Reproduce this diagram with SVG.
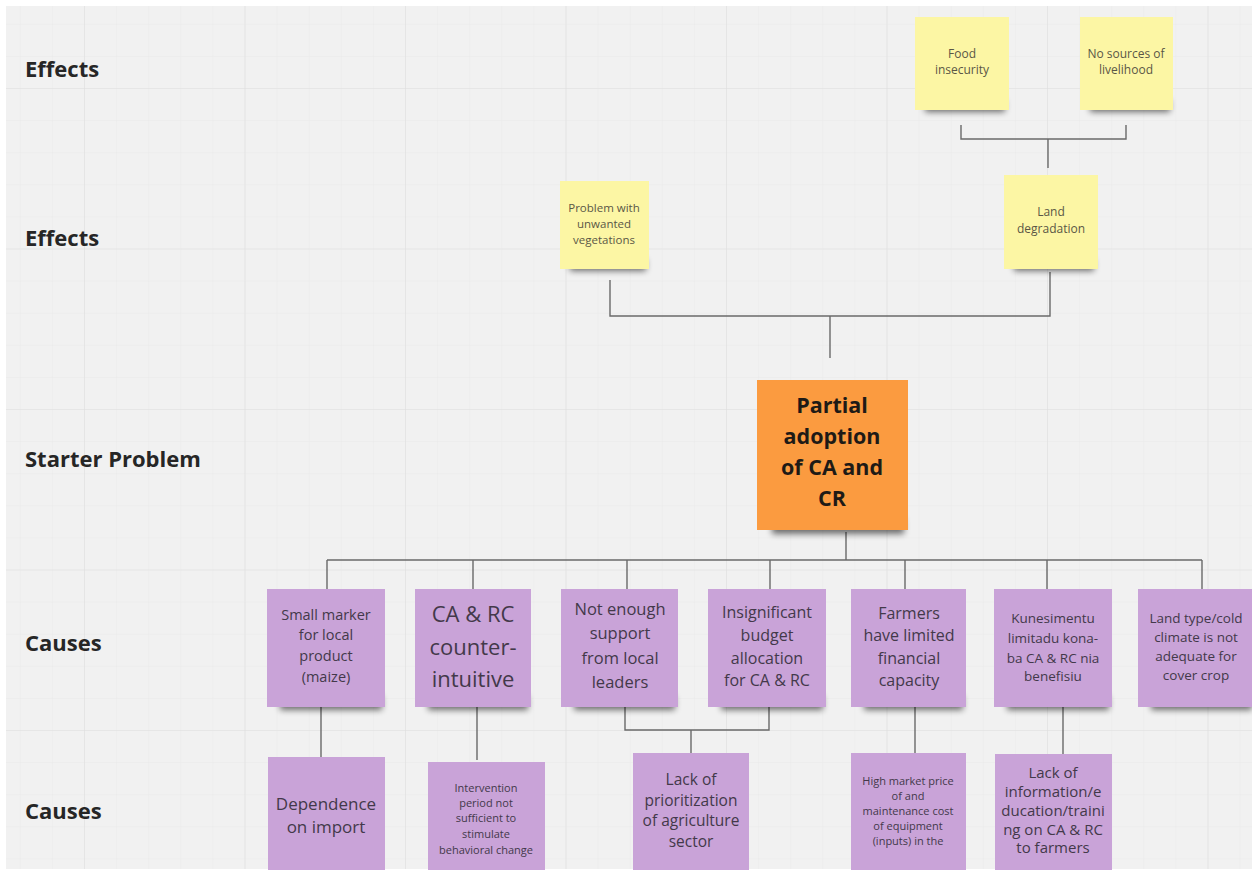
<svg xmlns="http://www.w3.org/2000/svg" width="1252" height="870" viewBox="0 0 1252 870">
  <style>
    .lbl { font-family: "Open Sans", "Liberation Sans", sans-serif; font-weight: 700; font-size: 22px; fill: #262626; }
    .t { font-family: "Open Sans", "Liberation Sans", sans-serif; text-anchor: middle; }
    .ty { fill: #5a5646; }
    .tp { fill: #43394a; }
    .to { fill: #1e1a16; font-weight: 700; }
    .yellow { fill: #fcf6a4; }
    .purple { fill: #c9a3d8; }
    .orange { fill: #fb9b40; }
    .shadow { fill: #000; opacity: 0.55; filter: url(#soft); }
    .conn path { fill: none; stroke: #6a6a6a; stroke-width: 1.4; }
  </style>
  <defs>
    <filter id="soft" x="-20%" y="-100%" width="140%" height="300%">
      <feGaussianBlur stdDeviation="3"/>
    </filter>
    <pattern id="minor" patternUnits="userSpaceOnUse" x="84" y="88" width="32.1" height="32.1">
      <path d="M0 0H32.1M0 0V32.1" fill="none" stroke="#e9e9e9" stroke-width="1"/>
    </pattern>
    <pattern id="major" patternUnits="userSpaceOnUse" x="84" y="88" width="160.5" height="160.5">
      <path d="M0 0H160.5M0 0V160.5" fill="none" stroke="#dfdfdf" stroke-width="1.2"/>
    </pattern>
  </defs>

  <!-- board -->
  <rect width="1252" height="870" fill="#ffffff"/>
  <rect x="6" y="6" width="1246" height="863" fill="#f1f1f1"/>
  <rect x="6" y="6" width="1246" height="863" fill="url(#minor)"/>
  <rect x="6" y="6" width="1246" height="863" fill="url(#major)"/>

  <!-- row labels -->
  <g id="row-labels">
    <text class="lbl" x="25" y="77">Effects</text>
    <text class="lbl" x="25" y="246">Effects</text>
    <text class="lbl" x="25" y="467">Starter Problem</text>
    <text class="lbl" x="25" y="651">Causes</text>
    <text class="lbl" x="25" y="819">Causes</text>
  </g>

  <!-- connectors -->
  <g id="connectors" class="conn">
    <path d="M961 125V139H1126V125M1048 139V168"/>
    <path d="M610 280V316H1050V272M830 316V358"/>
    <path d="M846 532V560M327 560H1202M327 560V589M473 560V589M627 560V589M770 560V589M905 560V589M1047 560V589M1202 560V589"/>
    <path d="M321 707V757M477 707V760M625 707V730H769V707M691 730V753M915 707V753M1063 707V754"/>
  </g>

  <!-- effects (top) -->
  <g id="food-insecurity">
    <rect class="shadow" x="925" y="100" width="80" height="12"/>
    <rect class="yellow" x="915" y="17" width="94" height="93"/>
    <text class="t ty" font-size="12"><tspan x="962" y="58">Food</tspan><tspan x="962" y="74">insecurity</tspan></text>
  </g>
  <g id="no-livelihood">
    <rect class="shadow" x="1090" y="100" width="80" height="12"/>
    <rect class="yellow" x="1080" y="17" width="93" height="93"/>
    <text class="t ty" font-size="12"><tspan x="1126" y="58">No sources of</tspan><tspan x="1126" y="74">livelihood</tspan></text>
  </g>

  <!-- effects (second) -->
  <g id="unwanted-vegetation">
    <rect class="shadow" x="570" y="259" width="76" height="12"/>
    <rect class="yellow" x="560" y="181" width="89" height="88"/>
    <text class="t ty" font-size="11.5"><tspan x="604" y="212">Problem with</tspan><tspan x="604" y="228">unwanted</tspan><tspan x="604" y="244">vegetations</tspan></text>
  </g>
  <g id="land-degradation">
    <rect class="shadow" x="1014" y="259" width="80" height="12"/>
    <rect class="yellow" x="1004" y="175" width="94" height="94"/>
    <text class="t ty" font-size="12"><tspan x="1051" y="216">Land</tspan><tspan x="1051" y="233">degradation</tspan></text>
  </g>

  <!-- starter problem -->
  <g id="starter-problem">
    <rect class="shadow" x="772" y="518" width="132" height="16"/>
    <rect class="orange" x="757" y="380" width="151" height="150"/>
    <text class="t to" font-size="21.5"><tspan x="832" y="413">Partial</tspan><tspan x="832" y="444">adoption</tspan><tspan x="832" y="475">of CA and</tspan><tspan x="832" y="506">CR</tspan></text>
  </g>

  <!-- causes (first level) -->
  <g id="small-market">
    <rect class="shadow" x="280" y="696" width="102" height="14"/>
    <rect class="purple" x="267" y="589" width="118" height="118"/>
    <text class="t tp" font-size="14.5"><tspan x="326" y="620">Small marker</tspan><tspan x="326" y="640">for local</tspan><tspan x="326" y="661">product</tspan><tspan x="326" y="682">(maize)</tspan></text>
  </g>
  <g id="counter-intuitive">
    <rect class="shadow" x="428" y="696" width="100" height="14"/>
    <rect class="purple" x="415" y="589" width="116" height="118"/>
    <text class="t tp" font-size="22"><tspan x="473" y="622">CA &amp; RC</tspan><tspan x="473" y="655">counter-</tspan><tspan x="473" y="687">intuitive</tspan></text>
  </g>
  <g id="local-leaders">
    <rect class="shadow" x="574" y="696" width="101" height="14"/>
    <rect class="purple" x="561" y="589" width="117" height="118"/>
    <text class="t tp" font-size="16.5"><tspan x="620" y="615">Not enough</tspan><tspan x="620" y="639">support</tspan><tspan x="620" y="664">from local</tspan><tspan x="620" y="688">leaders</tspan></text>
  </g>
  <g id="budget-allocation">
    <rect class="shadow" x="721" y="696" width="102" height="14"/>
    <rect class="purple" x="708" y="589" width="118" height="118"/>
    <text class="t tp" font-size="16"><tspan x="767" y="618">Insignificant</tspan><tspan x="767" y="641">budget</tspan><tspan x="767" y="664">allocation</tspan><tspan x="767" y="686">for CA &amp; RC</tspan></text>
  </g>
  <g id="financial-capacity">
    <rect class="shadow" x="864" y="696" width="99" height="14"/>
    <rect class="purple" x="851" y="589" width="115" height="118"/>
    <text class="t tp" font-size="16"><tspan x="909" y="619">Farmers</tspan><tspan x="909" y="641">have limited</tspan><tspan x="909" y="664">financial</tspan><tspan x="909" y="686">capacity</tspan></text>
  </g>
  <g id="limited-knowledge">
    <rect class="shadow" x="1007" y="696" width="102" height="14"/>
    <rect class="purple" x="994" y="589" width="118" height="118"/>
    <text class="t tp" font-size="13.5"><tspan x="1053" y="623">Kunesimentu</tspan><tspan x="1053" y="643">limitadu kona-</tspan><tspan x="1053" y="663">ba CA &amp; RC nia</tspan><tspan x="1053" y="681">benefisiu</tspan></text>
  </g>
  <g id="land-type">
    <rect class="shadow" x="1151" y="696" width="101" height="14"/>
    <rect class="purple" x="1138" y="589" width="116" height="118"/>
    <text class="t tp" font-size="13.5"><tspan x="1196" y="623">Land type/cold</tspan><tspan x="1196" y="642">climate is not</tspan><tspan x="1196" y="661">adequate for</tspan><tspan x="1196" y="680">cover crop</tspan></text>
  </g>

  <!-- causes (second level) -->
  <g id="import-dependence">
    <rect class="purple" x="268" y="757" width="117" height="113"/>
    <text class="t tp" font-size="17"><tspan x="326" y="810">Dependence</tspan><tspan x="326" y="833">on import</tspan></text>
  </g>
  <g id="intervention-period">
    <rect class="purple" x="428" y="762" width="117" height="108"/>
    <text class="t tp" font-size="11"><tspan x="486" y="792">Intervention</tspan><tspan x="486" y="807">period not</tspan><tspan x="486" y="822">sufficient to</tspan><tspan x="486" y="838">stimulate</tspan><tspan x="486" y="854">behavioral change</tspan></text>
  </g>
  <g id="agriculture-priority">
    <rect class="purple" x="633" y="753" width="116" height="117"/>
    <text class="t tp" font-size="15.5"><tspan x="691" y="785">Lack of</tspan><tspan x="691" y="806">prioritization</tspan><tspan x="691" y="826">of agriculture</tspan><tspan x="691" y="847">sector</tspan></text>
  </g>
  <g id="equipment-cost">
    <rect class="purple" x="851" y="753" width="115" height="117"/>
    <text class="t tp" font-size="11"><tspan x="908" y="785">High market price</tspan><tspan x="908" y="800">of and</tspan><tspan x="908" y="815">maintenance cost</tspan><tspan x="908" y="830">of equipment</tspan><tspan x="908" y="845">(inputs) in the</tspan></text>
  </g>
  <g id="training-gap">
    <rect class="purple" x="995" y="754" width="117" height="116"/>
    <text class="t tp" font-size="15"><tspan x="1053" y="778">Lack of</tspan><tspan x="1053" y="797">information/e</tspan><tspan x="1053" y="816">ducation/traini</tspan><tspan x="1053" y="835">ng on CA &amp; RC</tspan><tspan x="1053" y="853">to farmers</tspan></text>
  </g>
</svg>
